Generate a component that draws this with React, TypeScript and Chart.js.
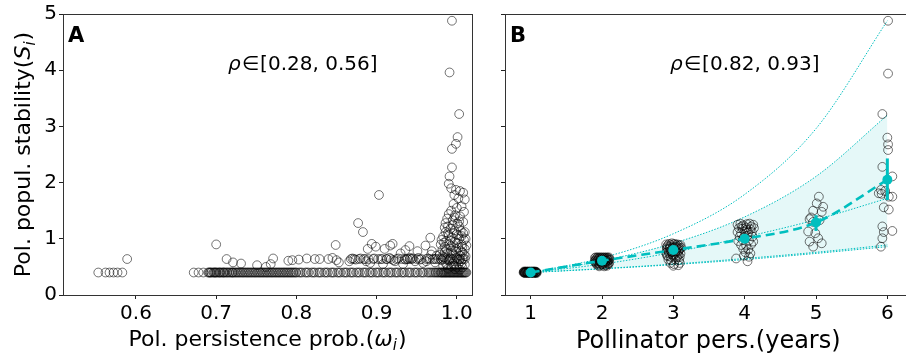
import React, { useEffect, useRef } from "react";
import { Chart, registerables } from "chart.js";

Chart.register(...registerables);

const FONT = '"DejaVu Sans", "Liberation Sans", sans-serif';
const CYAN = "#00bfbf";
const CIRCLE = "rgba(0,0,0,0.55)";

// ---------- shared ----------
const yTicks = [0, 1, 2, 3, 4, 5];

// ---------- Panel A: persistence probability vs stability ----------
const aXTicks = [0.6, 0.7, 0.8, 0.9, 1.0];
const aRhoText = "[0.28, 0.56]";
const aBaseRowY = 0.4;
const aBaseRowX = [
  0.553, 0.562, 0.567, 0.572, 0.577, 0.583,
  0.672, 0.678, 0.684, 0.69, 0.692, 0.694, 0.697, 0.699, 0.701, 0.704, 0.706, 0.709, 0.711,
  0.714, 0.717, 0.72, 0.722, 0.725, 0.728, 0.731, 0.734, 0.737, 0.74, 0.743, 0.746, 0.749,
  0.752, 0.755, 0.758, 0.761, 0.764, 0.767, 0.77, 0.773, 0.776, 0.779, 0.782, 0.785, 0.788,
  0.791, 0.794, 0.797, 0.8, 0.803, 0.807, 0.811, 0.815, 0.819, 0.823, 0.827, 0.831, 0.835,
  0.839, 0.843, 0.847, 0.851, 0.855, 0.859, 0.863, 0.867, 0.871, 0.875, 0.879, 0.883, 0.887,
  0.891, 0.895, 0.899, 0.903, 0.907, 0.911, 0.915, 0.919, 0.923, 0.927, 0.931, 0.935, 0.939,
  0.943, 0.947, 0.951, 0.955, 0.959, 0.963, 0.967, 0.971, 0.974, 0.977, 0.98, 0.982, 0.984,
  0.986, 0.988, 0.99, 0.992, 0.994, 0.996, 0.998, 1.0, 1.002, 1.004, 1.006, 1.008, 1.01, 1.012,
];
const aBaseRowXDense = [
  0.691, 0.693, 0.696, 0.698, 0.7, 0.703, 0.705, 0.708, 0.71, 0.713, 0.716, 0.719, 0.721,
  0.724, 0.727, 0.73, 0.733, 0.736, 0.739, 0.742, 0.745, 0.748, 0.751, 0.754, 0.757, 0.76,
  0.763, 0.766, 0.769, 0.772, 0.775, 0.778, 0.781, 0.784, 0.787, 0.79, 0.793, 0.796, 0.799,
  0.805, 0.813, 0.821, 0.829, 0.837, 0.845, 0.853, 0.861, 0.869, 0.877, 0.885, 0.893, 0.901,
  0.909, 0.917, 0.925, 0.933, 0.941, 0.949, 0.957, 0.965, 0.969, 0.973, 0.976, 0.979, 0.981,
  0.983, 0.985, 0.987, 0.989, 0.991, 0.993, 0.995, 0.997, 0.999, 1.001, 1.003, 1.005, 1.007,
  1.009, 1.011,
];
const aSecondRowY = 0.64;
const aSecondRowX = [
  0.868, 0.872, 0.878, 0.884, 0.89, 0.896, 0.902, 0.907, 0.912, 0.918, 0.925, 0.931, 0.935,
  0.938, 0.942, 0.944, 0.95, 0.956, 0.962, 0.966, 0.97, 0.974, 0.977, 0.98, 0.983, 0.986,
  0.989, 0.992, 0.995, 0.998, 1.001, 1.004, 1.007, 1.01,
];
const aScatterPts = [
  [0.589, 0.64], [0.7, 0.9], [0.713, 0.64], [0.721, 0.58], [0.731, 0.56], [0.751, 0.53],
  [0.762, 0.5], [0.768, 0.55], [0.771, 0.65], [0.79, 0.61], [0.795, 0.62], [0.803, 0.63],
  [0.813, 0.65], [0.823, 0.64], [0.829, 0.64], [0.84, 0.64], [0.845, 0.66], [0.849, 0.89],
  [0.85, 0.62], [0.853, 0.58], [0.866, 0.6], [0.87, 0.65], [0.874, 0.63], [0.877, 1.28],
  [0.88, 0.65], [0.883, 1.12], [0.886, 0.64], [0.889, 0.82], [0.892, 0.57], [0.894, 0.91],
  [0.899, 0.86], [0.903, 1.78], [0.905, 0.64], [0.908, 0.55], [0.91, 0.82], [0.913, 0.64],
  [0.917, 0.88], [0.92, 0.91], [0.923, 0.6], [0.927, 0.65], [0.93, 0.74], [0.933, 0.55],
  [0.936, 0.8], [0.939, 0.64], [0.941, 0.87], [0.945, 0.65], [0.948, 0.6], [0.951, 0.78],
  [0.954, 0.63], [0.958, 0.57], [0.961, 0.88], [0.964, 0.65], [0.967, 1.02], [0.969, 0.78],
  [0.972, 0.64], [0.975, 0.7], [0.916, 0.66], [0.921, 0.62], [0.936, 0.63], [0.942, 0.66],
  [0.952, 0.66], [0.962, 0.6], [0.968, 0.72], [0.973, 0.58], [0.897, 0.65], [0.887, 0.6],
];
const aClusterPts = [
  [0.994, 4.88], [0.991, 3.96], [1.003, 3.22], [1.001, 2.81], [0.999, 2.69], [0.994, 2.6],
  [0.994, 2.27], [0.991, 2.11], [0.99, 1.98], [0.993, 1.9], [0.999, 1.87], [1.004, 1.85],
  [1.008, 1.82], [0.997, 1.78], [1.002, 1.72], [1.01, 1.7], [0.996, 1.62], [1.006, 1.58],
  [1.0, 1.55], [0.993, 1.5], [1.009, 1.48], [0.998, 1.42], [1.004, 1.4], [0.988, 1.36],
  [0.995, 1.33], [1.008, 1.3], [1.001, 1.27], [0.985, 1.2], [0.992, 1.18], [0.997, 1.15],
  [1.005, 1.14], [1.01, 1.12], [0.989, 1.1], [1.0, 1.08], [0.983, 1.04], [0.994, 1.02],
  [1.003, 1.0], [1.009, 0.98], [0.987, 0.96], [0.998, 0.94], [0.98, 0.9], [0.991, 0.9],
  [1.006, 0.9], [0.985, 0.86], [0.996, 0.85], [1.002, 0.84], [1.01, 0.82], [0.982, 0.8],
  [0.993, 0.79], [0.999, 0.77], [1.007, 0.76], [0.988, 0.74], [0.979, 0.72], [0.996, 0.71],
  [1.004, 0.7], [1.011, 0.69], [0.984, 0.67], [0.992, 0.66], [1.0, 0.66], [1.008, 0.65],
  [0.981, 0.62], [0.99, 0.61], [0.997, 0.6], [1.005, 0.6], [0.986, 0.57], [0.995, 0.56],
  [1.002, 0.55], [1.01, 0.54], [0.983, 0.52], [0.993, 0.51], [1.0, 0.5], [1.007, 0.49],
  [0.989, 0.47], [0.998, 0.46], [1.004, 0.45], [0.986, 1.28], [1.003, 1.22], [0.99, 1.44],
  [1.006, 1.05], [0.981, 0.98], [1.012, 0.88], [0.995, 1.25], [1.0, 0.92], [0.987, 0.82],
  [0.984, 0.93], [0.992, 0.97], [1.002, 1.06], [1.008, 1.1], [0.99, 1.06], [0.996, 1.1],
  [1.011, 1.0], [0.986, 1.12], [1.005, 0.78], [0.994, 0.74], [0.982, 0.69], [1.009, 0.72],
  [0.988, 0.53], [0.997, 0.52], [1.006, 0.56], [0.991, 0.63], [1.003, 0.63], [0.985, 0.76],
  [0.999, 0.82], [1.007, 0.86], [0.993, 0.87], [0.989, 1.22], [1.003, 1.31], [0.997, 1.38],
];

// ---------- Panel B: persistence in years vs stability ----------
const bXTicks = [1, 2, 3, 4, 5, 6];
const bRhoText = "[0.82, 0.93]";
const bYears = [1, 2, 3, 4, 5, 6];
const bMean = [0.4, 0.61, 0.8, 1.0, 1.29, 2.05];
const bErrLow = [0.39, 0.59, 0.76, 0.94, 1.14, 1.69];
const bErrHigh = [0.42, 0.63, 0.84, 1.06, 1.42, 2.43];
const bCurveTop = [0.4, 0.66, 1.09, 1.79, 2.96, 4.88];
const bCurveUpper = [0.4, 0.61, 0.92, 1.39, 2.11, 3.2];
const bCurveMid = [0.4, 0.55, 0.76, 1.03, 1.34, 1.72];
const bCurveLow1 = [0.4, 0.47, 0.55, 0.65, 0.76, 0.89];
const bCurveLow2 = [0.4, 0.465, 0.54, 0.63, 0.74, 0.86];
const bPts1 = [
  [0.9, 0.4], [0.92, 0.41], [0.94, 0.4], [0.96, 0.41], [0.98, 0.4], [1.0, 0.41], [1.02, 0.4],
  [1.04, 0.41], [1.06, 0.4], [1.08, 0.41], [0.91, 0.4], [0.95, 0.4], [0.99, 0.4], [1.03, 0.4],
  [1.07, 0.4], [0.93, 0.41], [0.97, 0.4], [1.01, 0.4], [1.05, 0.41], [0.905, 0.41],
  [0.915, 0.4], [0.925, 0.4], [0.935, 0.41], [0.945, 0.41], [0.955, 0.4], [0.965, 0.4],
  [0.975, 0.41], [0.985, 0.41], [0.995, 0.4], [1.005, 0.41], [1.015, 0.41], [1.025, 0.4],
  [1.035, 0.41], [1.045, 0.4], [1.055, 0.41], [1.065, 0.4], [1.075, 0.41], [1.085, 0.4],
  [0.91, 0.42], [0.94, 0.42], [0.97, 0.42], [1.0, 0.42], [1.03, 0.42], [1.06, 0.42],
  [0.92, 0.39], [0.96, 0.39], [1.0, 0.39], [1.04, 0.39], [1.08, 0.39],
];
const bPts2 = [
  [1.9, 0.66], [1.93, 0.66], [1.96, 0.66], [1.99, 0.66], [2.02, 0.66], [2.05, 0.66],
  [2.08, 0.66], [2.1, 0.65], [1.91, 0.62], [1.94, 0.62], [1.97, 0.61], [2.0, 0.62],
  [2.03, 0.62], [2.06, 0.61], [2.09, 0.62], [1.91, 0.58], [1.94, 0.57], [1.98, 0.58],
  [2.01, 0.57], [2.04, 0.58], [2.07, 0.58], [2.1, 0.57], [1.93, 0.54], [1.97, 0.53],
  [2.01, 0.54], [2.05, 0.53], [2.09, 0.55], [1.96, 0.51], [2.03, 0.51], [2.07, 0.52],
  [1.915, 0.67], [1.945, 0.67], [1.975, 0.67], [2.005, 0.67], [2.035, 0.67], [2.065, 0.67],
  [2.095, 0.67], [1.92, 0.64], [1.95, 0.64], [1.98, 0.64], [2.01, 0.64], [2.04, 0.64],
  [2.07, 0.64], [2.1, 0.63], [1.9, 0.6], [1.93, 0.6], [1.96, 0.6], [1.99, 0.6], [2.02, 0.6],
  [2.05, 0.6], [2.08, 0.6], [1.92, 0.56], [1.96, 0.56], [2.0, 0.55], [2.04, 0.56],
  [2.08, 0.56],
];
const bPts3 = [
  [2.9, 0.9], [2.94, 0.91], [2.98, 0.92], [3.02, 0.91], [3.06, 0.9], [3.1, 0.89],
  [2.91, 0.85], [2.95, 0.86], [2.99, 0.85], [3.03, 0.86], [3.07, 0.85], [3.11, 0.84],
  [2.92, 0.8], [2.96, 0.79], [3.0, 0.81], [3.04, 0.78], [3.08, 0.8], [2.9, 0.75],
  [2.94, 0.74], [2.98, 0.76], [3.02, 0.73], [3.06, 0.75], [3.1, 0.74], [2.92, 0.69],
  [2.96, 0.68], [3.0, 0.7], [3.05, 0.67], [3.09, 0.68], [2.93, 0.63], [2.97, 0.62],
  [3.03, 0.63], [3.08, 0.62], [2.96, 0.57], [3.01, 0.55], [3.09, 0.57], [3.0, 0.52],
  [3.07, 0.53], [2.92, 0.88], [2.96, 0.89], [3.0, 0.9], [3.04, 0.89], [3.08, 0.88],
  [2.91, 0.82], [2.95, 0.83], [3.01, 0.84], [3.05, 0.83], [3.09, 0.82], [2.93, 0.77],
  [2.97, 0.77], [3.03, 0.77], [3.07, 0.78], [2.91, 0.71], [2.99, 0.72], [3.07, 0.71],
];
const bPts4 = [
  [3.9, 1.25], [3.94, 1.27], [3.98, 1.24], [4.03, 1.26], [4.07, 1.27], [4.12, 1.25],
  [3.92, 1.19], [3.97, 1.18], [4.02, 1.2], [4.08, 1.17], [4.13, 1.19], [3.9, 1.12],
  [3.95, 1.1], [4.0, 1.13], [4.05, 1.11], [4.1, 1.12], [3.93, 1.04], [3.99, 1.03],
  [4.04, 1.05], [4.11, 1.04], [3.91, 0.96], [3.97, 0.98], [4.06, 0.97], [4.12, 0.95],
  [3.95, 0.89], [4.02, 0.88], [4.09, 0.9], [3.98, 0.82], [4.05, 0.81], [4.01, 0.76],
  [4.08, 0.74], [3.99, 0.7], [4.06, 0.68], [3.88, 0.65], [4.04, 0.6], [4.09, 1.22],
  [3.96, 1.22], [4.03, 1.16],
];
const bPts5 = [
  [5.04, 1.75], [5.01, 1.63], [5.1, 1.57], [4.96, 1.5], [5.08, 1.48], [4.91, 1.35],
  [4.96, 1.3], [5.05, 1.33], [4.89, 1.13], [4.99, 1.1], [4.91, 0.95], [5.08, 0.92],
  [4.96, 0.86], [5.03, 1.01], [4.93, 1.38],
];
const bPts6 = [
  [6.01, 4.88], [6.01, 3.94], [5.93, 3.22], [6.0, 2.8], [6.01, 2.68], [6.01, 2.58],
  [5.93, 2.28], [6.07, 2.11], [5.91, 1.87], [5.92, 1.8], [6.02, 1.75], [6.07, 1.75],
  [5.88, 1.81], [5.95, 1.56], [6.02, 1.52], [5.93, 1.22], [5.95, 1.12], [6.07, 1.14],
  [5.93, 1.01], [5.91, 0.86], [5.97, 1.85],
];

// ---------- helpers ----------
type Run = { t: string; f: string; dy?: number; gap?: number };

function runsWidth(ctx: CanvasRenderingContext2D, runs: Run[]) {
  let w = 0;
  for (const r of runs) {
    ctx.font = r.f;
    w += ctx.measureText(r.t).width + (r.gap || 0);
  }
  return w;
}

function drawRuns(ctx: CanvasRenderingContext2D, runs: Run[], x: number, y: number, center: boolean) {
  let cx = center ? x - runsWidth(ctx, runs) / 2 : x;
  ctx.textBaseline = "alphabetic";
  ctx.textAlign = "left";
  ctx.fillStyle = "#000";
  for (const r of runs) {
    ctx.font = r.f;
    ctx.fillText(r.t, cx, y + (r.dy || 0));
    cx += ctx.measureText(r.t).width + (r.gap || 0);
  }
}

const pairs = (arr: number[][]) => arr.map(([x, y]) => ({ x, y }));
const row = (xs: number[], y: number) => xs.map((x) => ({ x, y }));
const curve = (ys: number[]) => bYears.map((x, i) => ({ x, y: ys[i] }));

function circleSet(data: any[]) {
  return {
    type: "scatter",
    data,
    pointRadius: 4.4,
    pointBorderWidth: 1,
    pointBorderColor: CIRCLE,
    pointBackgroundColor: "rgba(0,0,0,0)",
    pointHoverRadius: 4.4,
    showLine: false,
    order: 2,
  };
}

function dottedSet(ys: number[], fill: any = false) {
  return {
    type: "line",
    data: curve(ys),
    borderColor: CYAN,
    borderWidth: 1,
    borderDash: [1.5, 1.5],
    pointRadius: 0,
    cubicInterpolationMode: "monotone",
    fill,
    backgroundColor: "rgba(0,191,191,0.1)",
    order: 3,
  };
}

function overlayPlugin(cfg: any) {
  return {
    id: "overlay" + cfg.letter,
    afterDatasetsDraw(chart: any) {
      if (!cfg.errors) return;
      const ctx = chart.ctx;
      const xs = chart.scales.x;
      const ys = chart.scales.y;
      ctx.save();
      ctx.strokeStyle = CYAN;
      ctx.lineWidth = 3;
      bYears.forEach((yr, i) => {
        const px = xs.getPixelForValue(yr);
        ctx.beginPath();
        ctx.moveTo(px, ys.getPixelForValue(bErrLow[i]));
        ctx.lineTo(px, ys.getPixelForValue(bErrHigh[i]));
        ctx.stroke();
      });
      ctx.fillStyle = CYAN;
      bYears.forEach((yr, i) => {
        ctx.beginPath();
        ctx.arc(xs.getPixelForValue(yr), ys.getPixelForValue(bMean[i]), 5, 0, Math.PI * 2);
        ctx.fill();
      });
      ctx.restore();
    },
    afterDraw(chart: any) {
      const ctx = chart.ctx;
      const a = chart.chartArea;
      ctx.save();
      ctx.strokeStyle = "#333";
      ctx.lineWidth = 1;
      ctx.strokeRect(a.left + 0.5, a.top + 0.5, a.right - a.left, a.bottom - a.top);
      // panel letter
      ctx.font = `bold 21px ${FONT}`;
      ctx.fillStyle = "#000";
      ctx.textAlign = "left";
      ctx.textBaseline = "alphabetic";
      ctx.fillText(cfg.letter, a.left + 5, 42);
      // rho annotation
      drawRuns(
        ctx,
        [
          { t: "ρ", f: `italic 20px ${FONT}`, gap: 1 },
          { t: "∈", f: `20px ${FONT}`, gap: 1 },
          { t: cfg.rho, f: `20px ${FONT}` },
        ],
        cfg.rhoX,
        70,
        false
      );
      // x title
      drawRuns(ctx, cfg.xTitle, (a.left + a.right) / 2, cfg.xTitleY, true);
      // y title
      if (cfg.yTitle) {
        ctx.save();
        ctx.translate(30, (a.top + a.bottom) / 2);
        ctx.rotate(-Math.PI / 2);
        drawRuns(ctx, cfg.yTitle, 0, 0, true);
        ctx.restore();
      }
      ctx.restore();
    },
  };
}

function axisOpts(min: number, max: number, ticks: number[], fmt: (v: number) => string, size: number, isY: boolean) {
  return {
    type: "linear",
    min,
    max,
    afterBuildTicks: (s: any) => {
      s.ticks = ticks.map((v) => ({ value: v }));
    },
    afterFit: (s: any) => {
      if (isY) s.width = size;
      else s.height = size;
    },
    grid: {
      display: true,
      drawOnChartArea: false,
      drawTicks: true,
      tickLength: 4,
      color: "#222",
      lineWidth: 1,
    },
    border: { display: false },
    ticks: {
      autoSkip: false,
      maxRotation: 0,
      padding: isY ? 2 : 3,
      color: "#000",
      font: { family: FONT, size: 20 },
      callback: (v: any) => fmt(Number(v)),
    },
    title: { display: false },
  };
}

function ChartCanvas({ config, width, height, left }: any) {
  const ref = useRef<HTMLCanvasElement | null>(null);
  useEffect(() => {
    if (!ref.current) return;
    const chart = new Chart(ref.current, config);
    return () => chart.destroy();
  }, []);
  return (
    <canvas
      ref={ref}
      width={width}
      height={height}
      style={{ position: "absolute", left, top: 0, width, height }}
    />
  );
}

export default function App() {
  const commonOpts = {
    responsive: false,
    animation: false,
    events: [],
    plugins: { legend: { display: false }, tooltip: { enabled: false } },
  };

  const configA: any = {
    type: "scatter",
    data: {
      datasets: [
        circleSet(row(aBaseRowX, aBaseRowY)),
        circleSet(row(aBaseRowXDense, aBaseRowY)),
        circleSet(row(aSecondRowX, aSecondRowY)),
        circleSet(pairs(aScatterPts)),
        circleSet(pairs(aClusterPts)),
      ],
    },
    options: {
      ...commonOpts,
      layout: { padding: { left: 0, right: 8, top: 14, bottom: 0 } },
      scales: {
        x: axisOpts(0.509, 1.019, aXTicks, (v) => v.toFixed(1), 59, false),
        y: axisOpts(0, 5, yTicks, (v) => String(v), 63, true),
      },
    },
    plugins: [
      overlayPlugin({
        letter: "A",
        rho: aRhoText,
        rhoX: 228,
        xTitleY: 345.5,
        xTitle: [
          { t: "Pol. persistence prob.(", f: `22px ${FONT}` },
          { t: "ω", f: `italic 22px ${FONT}` },
          { t: "i", f: `italic 15px ${FONT}`, dy: 4.5, gap: 1 },
          { t: ")", f: `22px ${FONT}` },
        ],
        yTitle: [
          { t: "Pol. popul. stability(", f: `22px ${FONT}` },
          { t: "S", f: `italic 22px ${FONT}` },
          { t: "i", f: `italic 15px ${FONT}`, dy: 4.5, gap: 1 },
          { t: ")", f: `22px ${FONT}` },
        ],
      }),
    ],
  };

  const configB: any = {
    type: "scatter",
    data: {
      datasets: [
        {
          type: "line",
          data: curve(bMean),
          borderColor: CYAN,
          borderWidth: 2.6,
          borderDash: [9, 5],
          pointRadius: 0,
          cubicInterpolationMode: "monotone",
          fill: false,
          order: 0,
        },
        circleSet(pairs(bPts1)),
        circleSet(pairs(bPts2)),
        circleSet(pairs(bPts3)),
        circleSet(pairs(bPts4)),
        circleSet(pairs(bPts5)),
        circleSet(pairs(bPts6)),
        dottedSet(bCurveTop),
        dottedSet(bCurveUpper, 11),
        dottedSet(bCurveMid),
        dottedSet(bCurveLow1),
        dottedSet(bCurveLow2),
      ],
    },
    options: {
      ...commonOpts,
      layout: { padding: { left: 0, right: 1, top: 14, bottom: 0 } },
      scales: {
        x: axisOpts(0.64, 6.34, bXTicks, (v) => String(v), 59, false),
        y: axisOpts(0, 5, yTicks, () => "", 25, true),
      },
    },
    plugins: [
      overlayPlugin({
        letter: "B",
        rho: bRhoText,
        rhoX: 190,
        errors: true,
        xTitleY: 348,
        xTitle: [{ t: "Pollinator pers.(years)", f: `24px ${FONT}` }],
      }),
    ],
  };

  return (
    <div
      style={{
        position: "absolute",
        left: 0,
        top: 0,
        width: 906,
        height: 354,
        overflow: "hidden",
        background: "#fff",
      }}
    >
      <ChartCanvas config={configA} width={480} height={354} left={0} />
      <ChartCanvas config={configB} width={437} height={354} left={480} />
    </div>
  );
}
